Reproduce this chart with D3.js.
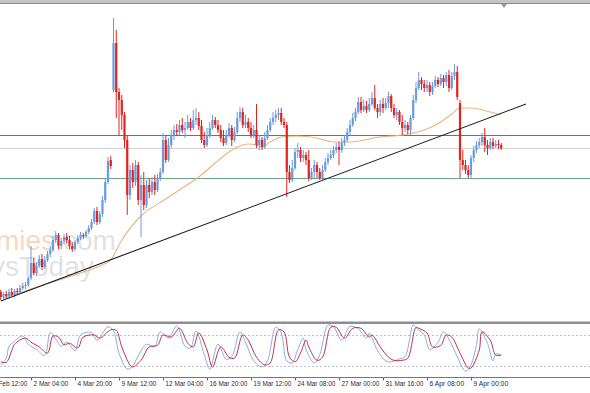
<!DOCTYPE html>
<html>
<head>
<meta charset="utf-8">
<script src="https://cdn.jsdelivr.net/npm/d3@7"></script>
<style>
  html, body { margin: 0; padding: 0; background: #fff; overflow: hidden; }
  svg { display: block; }
</style>
</head>
<body>
<svg id="chart"></svg>
<script>
// H4 candles, one entry per bar (price units are arbitrary, no price axis is shown)
const opens = [
  108,103,106,104,108,105,109,108,112,114,
  115,122,137,127,134,141,133,140,146,150,
  160,165,154,159,163,160,154,151,158,162,
  165,164,168,172,178,189,178,186,200,218,
  240,310,357,308,300,285,260,205,230,218,
  235,200,215,195,215,208,218,210,222,228,
  260,240,255,265,270,268,275,270,272,278,
  272,280,282,274,260,255,265,272,280,275,
  270,262,257,265,272,260,268,282,288,275,
  278,272,265,270,255,260,253,262,270,278,
  282,285,287,278,275,228,220,232,248,250,
  242,245,240,222,228,235,228,222,230,238,
  242,245,250,253,250,257,260,268,275,282,
  288,298,290,294,290,296,302,292,288,296,
  292,297,304,292,285,288,278,272,275,270,
  282,300,312,320,316,312,315,308,314,320,
  316,322,318,325,312,324,328,297,240,235,
  230,225,242,250,255,258,263,255,252,258,
  254,256,255
];
const highs = [
  110,108,109,111,112,111,112,115,117,118,
  124,154,142,138,145,146,144,149,154,164,
  169,167,162,166,167,164,158,160,165,168,
  167,170,175,181,192,193,189,204,222,243,
  244,382,370,312,305,288,265,235,237,240,
  238,225,228,220,222,223,225,226,232,267,
  265,262,270,275,276,280,282,278,285,282,
  290,292,288,280,268,272,278,285,283,280,
  275,270,270,277,275,273,288,293,292,285,
  282,278,275,296,265,263,268,275,282,288,
  290,292,292,282,278,235,240,252,257,253,
  250,248,250,232,240,238,232,235,242,247,
  250,254,257,258,262,265,272,280,287,292,
  303,303,300,299,302,308,315,296,300,302,
  302,308,306,296,292,290,285,280,278,285,
  305,318,328,323,320,320,318,318,324,323,
  326,325,328,330,328,336,334,300,250,240,
  235,245,254,259,262,267,272,260,262,262,
  260,260,257
];
const lows = [
  100,101,102,103,104,103,106,107,110,111,
  113,120,125,124,132,130,131,138,143,148,
  157,151,151,156,157,151,148,149,156,160,
  161,162,166,170,176,175,176,183,197,216,
  231,308,282,265,270,252,185,200,212,214,
  195,163,190,192,202,205,205,208,219,226,
  237,238,252,260,264,265,267,262,270,269,
  270,275,270,257,252,253,262,270,272,267,
  258,254,255,263,254,258,266,278,272,272,
  268,262,262,252,250,250,251,260,268,275,
  278,280,275,272,203,217,218,230,242,238,
  238,235,219,220,222,222,220,220,228,235,
  240,242,247,235,247,254,258,265,273,279,
  286,287,288,287,288,294,290,282,284,287,
  290,292,288,282,280,275,265,268,266,265,
  280,297,310,310,308,308,304,305,312,313,
  314,312,314,308,310,320,300,222,230,226,
  222,222,238,247,252,254,248,245,250,251,
  252,251,250
];
const closes = [
  103,106,104,108,105,109,108,112,114,115,
  122,137,127,134,141,133,140,146,150,160,
  165,154,159,163,160,154,151,158,162,165,
  164,168,172,178,189,178,186,200,218,239,
  234,357,308,300,285,260,205,230,218,235,
  200,215,195,215,208,218,210,222,228,260,
  240,255,265,270,268,275,270,272,278,272,
  280,282,274,260,255,265,272,280,275,270,
  262,257,265,272,260,268,282,288,275,278,
  272,265,270,255,260,253,262,270,278,282,
  285,287,278,275,228,220,232,248,250,242,
  245,240,222,228,235,228,222,230,238,242,
  245,250,253,250,257,260,268,275,282,288,
  298,290,294,290,296,302,292,288,296,292,
  297,304,292,285,288,278,272,275,270,282,
  300,312,320,316,312,315,308,314,320,316,
  322,318,325,312,324,328,303,240,235,230,
  225,242,250,255,258,263,255,252,258,254,
  256,255,252
];

// moving average, read at these bars
const maIdx = [1,11,20,29,36,40,44,51,60,66,72,78,82,86,90,93,95,98,102,108,115,121,127,138,146,150,154,160,164,167,171,178,182];
const maVal = [102,111,119,127,134,140,160,184,201,212,223,237,246,253,256,255,253,258,263,264,262,258,258,263,265,267,270,278,286,292,292,288,285];

// stochastic %K (blue) and %D (red)
const kIdx = [0,2,3,5,8,10,13,16,18,20,22,24,27,29,33,35,39,41,43,46,48,50,53,56,58,61,64,67,69,71,74,76,79,82,84,87,89,92,95,97,100,102,104,106,108,110,111,114,116,119,121,124,127,130,133,134,137,140,142,145,147,150,151,154,156,159,161,163,166,169,171,173,174,177,179,180,182];
const kVal = [22,35,58,68,78,62,52,40,85,72,58,66,50,80,85,70,96,88,45,14,20,40,62,58,86,74,98,58,55,88,42,14,62,33,38,86,66,30,18,30,95,84,30,26,52,74,52,26,42,99,96,70,97,92,74,84,50,30,28,34,38,100,94,80,52,66,86,72,38,10,22,62,92,64,30,43,42];
const dIdx = [0,2,4,5,9,11,14,17,19,21,23,25,28,30,34,36,40,42,44,47,48,51,54,57,59,62,65,68,70,72,75,77,80,83,85,88,90,93,96,98,101,103,105,107,109,111,112,115,117,120,122,125,128,131,134,135,138,141,143,146,148,151,152,155,157,160,162,164,167,170,171,174,175,178,180,182];
const dVal = [28,27,50,62,74,66,57,45,78,76,61,64,55,76,80,74,90,89,57,22,18,31,57,60,80,76,93,64,57,84,51,18,57,37,35,80,70,37,22,26,90,86,37,28,45,70,57,31,37,95,95,74,93,93,76,80,57,37,31,31,35,95,93,84,57,60,80,76,45,16,16,51,86,70,41,41];
const stochLevels = [80, 20];

// horizontal levels and trend line
const levelPrices = [265, 252, 222];
const trendIdx = [0, 191];
const trendVal = [99, 296];

// time axis
const tickIdx = [-5, 11, 27, 43, 59, 75, 91, 107, 123, 139, 155, 171];
const tickLabels = ["27 Feb 12:00", "2 Mar 04:00", "4 Mar 20:00", "9 Mar 12:00", "12 Mar 04:00", "16 Mar 20:00",
  "19 Mar 12:00", "24 Mar 08:00", "27 Mar 00:00", "31 Mar 16:00", "6 Apr 08:00", "9 Apr 00:00"];

const W = 590, H = 393;
const svg = d3.select("#chart").attr("width", W).attr("height", H)
  .style("font-family", "'Liberation Sans', Arial, sans-serif");

svg.append("rect").attr("width", W).attr("height", H).attr("fill", "#fff");

const x = d3.scaleLinear().domain([0, 214]).range([0.75, 589.25]);
const y = d3.scaleLinear().domain([82, 400]).range([318, 0]);
const ys = d3.scaleLinear().domain([0, 100]).range([376.3, 324.7]);

const defs = svg.append("defs");
defs.append("clipPath").attr("id", "mainClip")
  .append("rect").attr("x", 0).attr("y", 4).attr("width", W).attr("height", 317);
defs.append("clipPath").attr("id", "subClip")
  .append("rect").attr("x", 0).attr("y", 324).attr("width", W).attr("height", 53);

// top frame
svg.append("rect").attr("x", 0).attr("y", 0).attr("width", W).attr("height", 3).attr("fill", "#c4c4c4");
svg.append("line").attr("x1", 0).attr("x2", W).attr("y1", 3.5).attr("y2", 3.5).attr("stroke", "#8c8c8c");
svg.append("path").attr("d", "M501,4 L507,4 L504,8 Z").attr("fill", "#9a9a9a");

const main = svg.append("g").attr("clip-path", "url(#mainClip)");

// watermark
const wm = main.append("g").style("font-size", "28px").style("font-family", "'Liberation Sans', Arial, sans-serif");
const wm1 = wm.append("text").attr("x", -4).attr("y", 250);
wm1.append("tspan").attr("fill", "rgba(238,150,100,0.4)").text("mies");
wm1.append("tspan").attr("fill", "rgba(150,150,150,0.3)").text(".com");
wm.append("text").attr("x", -9).attr("y", 276).attr("fill", "rgba(150,150,150,0.3)").text("ysToday");

// horizontal levels
const levelColors = ["#c84a4a", "#d4d4d4", "#6fa48c"];
main.selectAll("line.level").data(levelPrices).join("line")
  .attr("class", "level")
  .attr("x1", 0).attr("x2", W)
  .attr("y1", d => Math.round(y(d)) + 0.5).attr("y2", d => Math.round(y(d)) + 0.5)
  .attr("stroke", (d, i) => levelColors[i]).attr("stroke-width", 1);

// moving average
main.append("path")
  .datum(maIdx.map((d, i) => [d, maVal[i]]))
  .attr("fill", "none").attr("stroke", "#eeb27a").attr("stroke-width", 1.1)
  .attr("d", d3.line().x(d => x(d[0])).y(d => y(d[1])).curve(d3.curveMonotoneX));

// candles
const bars = opens.map((o, i) => ({ i, o, h: highs[i], l: lows[i], c: closes[i] }));
const upCol = "#6a9ae0", dnCol = "#e3231f";
const cg = main.append("g");
cg.selectAll("line.wick").data(bars).join("line")
  .attr("class", "wick")
  .attr("x1", d => x(d.i)).attr("x2", d => x(d.i))
  .attr("y1", d => y(d.h)).attr("y2", d => y(d.l))
  .attr("stroke", d => d.c >= d.o ? upCol : dnCol).attr("stroke-width", 1);
cg.selectAll("rect.body").data(bars).join("rect")
  .attr("class", "body")
  .attr("x", d => x(d.i) - 1.1).attr("width", 2.2)
  .attr("y", d => y(Math.max(d.o, d.c)))
  .attr("height", d => Math.max(1, Math.abs(y(d.o) - y(d.c))))
  .attr("fill", d => d.c >= d.o ? upCol : dnCol);

// trend line
main.append("line")
  .attr("x1", x(trendIdx[0])).attr("y1", y(trendVal[0]))
  .attr("x2", x(trendIdx[1])).attr("y2", y(trendVal[1]))
  .attr("stroke", "#1a1a1a").attr("stroke-width", 1.1);

// separator
svg.append("rect").attr("x", 0).attr("y", 321.5).attr("width", W).attr("height", 2.5).attr("fill", "#8e8e8e");

// stochastic window
const sub = svg.append("g").attr("clip-path", "url(#subClip)");
sub.selectAll("line.lvl").data(stochLevels).join("line")
  .attr("class", "lvl")
  .attr("x1", 0).attr("x2", W)
  .attr("y1", d => Math.round(ys(d)) + 0.5).attr("y2", d => Math.round(ys(d)) + 0.5)
  .attr("stroke", "#c4c4c4").attr("stroke-dasharray", "2,2");

const sline = d3.line().x(d => x(d[0])).y(d => ys(d[1])).curve(d3.curveCatmullRom.alpha(0.5));
sub.append("path").datum(kIdx.map((d, i) => [d, kVal[i]]))
  .attr("fill", "none").attr("stroke", "#86aee6").attr("stroke-width", 1).attr("d", sline);
sub.append("path").datum(dIdx.map((d, i) => [d, dVal[i]]))
  .attr("fill", "none").attr("stroke", "#c2304a").attr("stroke-width", 1).attr("d", sline);

// time axis
const xAxis = d3.axisBottom(x)
  .tickValues(tickIdx)
  .tickFormat((d, i) => tickLabels[i])
  .tickSize(3).tickSizeOuter(0);
const ax = svg.append("g").attr("transform", "translate(0,377.5)").call(xAxis);
ax.select(".domain").remove();
ax.selectAll(".tick line").attr("stroke", "#666");
ax.selectAll(".tick text")
  .attr("text-anchor", "start").attr("x", 2).attr("y", 4).attr("dy", "0.71em")
  .attr("fill", "#2a2a2a").style("font-size", "7px")
  .style("font-family", "'Liberation Sans', Arial, sans-serif")
  .attr("textLength", (d, i) => tickLabels[i].length * 3.15)
  .attr("lengthAdjust", "spacingAndGlyphs");
svg.append("line").attr("x1", 0).attr("x2", W).attr("y1", 377.5).attr("y2", 377.5).attr("stroke", "#777");
</script>
</body>
</html>
